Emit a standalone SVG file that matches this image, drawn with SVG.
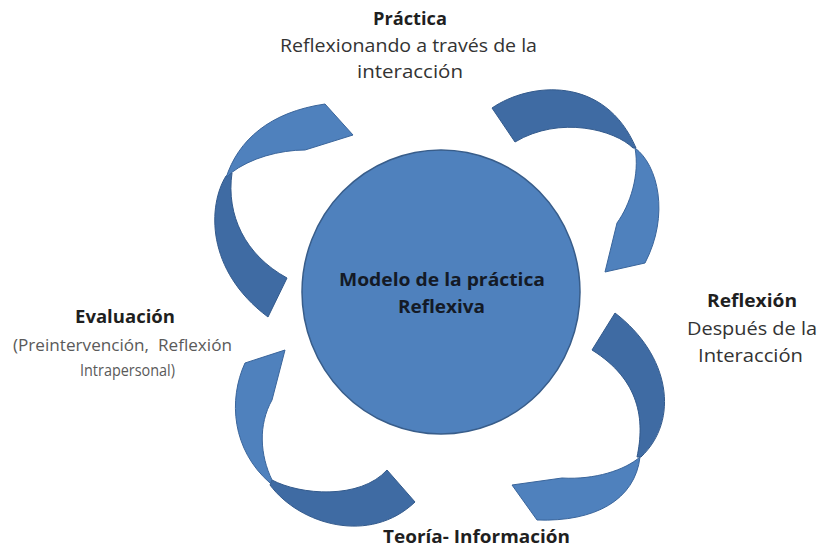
<svg xmlns="http://www.w3.org/2000/svg" width="820" height="550" viewBox="0 0 820 550">
<style>
.bg{fill:#ffffff}
.hub{fill:#4F81BD;stroke:#385D8A;stroke-width:1.5}
.front{fill:#4F81BD;stroke:#3A659B;stroke-width:1;stroke-linejoin:round}
.back{fill:#3F6BA3;stroke:#335A8C;stroke-width:1;stroke-linejoin:round}
text{font-family:"Open Sans","Liberation Sans",sans-serif;font-size:18px;text-anchor:middle}
.t{font-weight:bold;fill:#1f1f1f}
.s{fill:#333333}
.g{fill:#5a5a5a;font-size:17px}
.c{font-weight:bold;fill:#141a26}
</style>
<rect class="bg" x="0" y="0" width="820" height="550"/>

<g id="connectors">
  <g id="arrow-top-left">
    <path class="back" d="M 226,176 C 208,205 205,270 268,317 L 287,278 C 245,255 226,215 232,173 Z"/>
    <path class="front" d="M 226,178 C 238,140 270,112 325,104 L 353,135 L 305,150 C 280,150 250,158 231,173 Z"/>
  </g>
  <g id="arrow-top-right">
    <path class="back" d="M 492,108 C 530,82 605,75 636,148 L 633,148 C 615,130 560,115 515,142 Z"/>
    <path class="front" d="M 635,148 C 658,165 670,215 645,263 L 605,272 L 617,223 C 630,205 640,175 635,148 Z"/>
  </g>
  <g id="arrow-bottom-right">
    <path class="back" d="M 615,313 C 670,355 680,420 641,457 L 637,457 C 645,420 640,380 592,350 Z"/>
    <path class="front" d="M 640,457 C 635,500 595,522 537,520 L 512,485 L 562,478 C 595,480 625,470 640,457 Z"/>
  </g>
  <g id="arrow-bottom-left">
    <path class="back" d="M 272,480 C 300,495 360,500 387,470 L 415,502 C 370,545 300,525 270,485 Z"/>
    <path class="front" d="M 270,483 C 232,450 228,400 245,363 L 285,350 L 272,400 C 258,425 260,455 272,480 Z"/>
  </g>
</g>

<g id="node-center">
  <ellipse class="hub" cx="441" cy="292" rx="139" ry="142"/>
  <text class="c" x="442" y="286" textLength="206" lengthAdjust="spacingAndGlyphs">Modelo de la práctica</text>
  <text class="c" x="441.5" y="313" textLength="87" lengthAdjust="spacingAndGlyphs">Reflexiva</text>
</g>

<g id="node-practica">
  <text class="t" x="410" y="25" textLength="74" lengthAdjust="spacingAndGlyphs">Práctica</text>
  <text class="s" x="408.5" y="52" textLength="257" lengthAdjust="spacingAndGlyphs">Reflexionando a través de la</text>
  <text class="s" x="410" y="78" textLength="106" lengthAdjust="spacingAndGlyphs">interacción</text>
</g>

<g id="node-reflexion">
  <text class="t" x="752" y="307" textLength="90" lengthAdjust="spacingAndGlyphs">Reflexión</text>
  <text class="s" x="752" y="335" textLength="130" lengthAdjust="spacingAndGlyphs">Después de la</text>
  <text class="s" x="750.5" y="362" textLength="105" lengthAdjust="spacingAndGlyphs">Interacción</text>
</g>

<g id="node-teoria">
  <text class="t" x="476.5" y="543" textLength="187" lengthAdjust="spacingAndGlyphs">Teoría- Información</text>
</g>

<g id="node-evaluacion">
  <text class="t" x="125" y="323" textLength="100" lengthAdjust="spacingAndGlyphs">Evaluación</text>
  <text class="g" x="122.5" y="351" textLength="219" lengthAdjust="spacingAndGlyphs" xml:space="preserve">(Preintervención,  Reflexión</text>
  <text class="g" x="127.5" y="376" textLength="95" lengthAdjust="spacingAndGlyphs">Intrapersonal)</text>
</g>
</svg>
